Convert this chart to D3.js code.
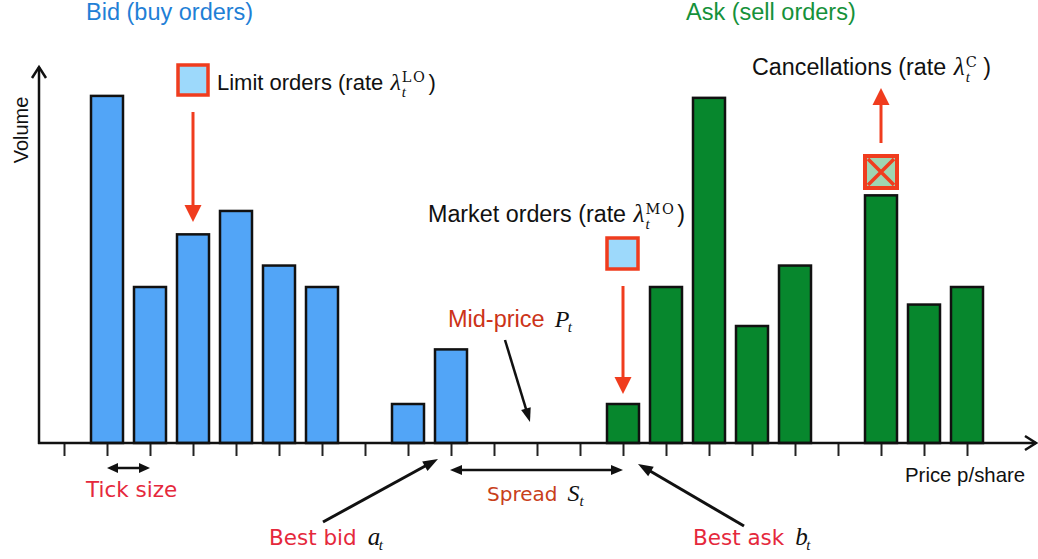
<!DOCTYPE html>
<html>
<head>
<meta charset="utf-8">
<script src="https://cdn.jsdelivr.net/npm/d3@7"></script>
<style>
  html, body { margin: 0; padding: 0; background: #ffffff; }
  svg { display: block; }
</style>
</head>
<body>
<svg id="chart" width="1038" height="559"></svg>
<script>
// ---- data ----
const tickIndices = d3.range(0, 22);               // price levels (ticks on the price axis)
const bidTicks   = [1, 2, 3, 4, 5, 6, 8, 9];
const bidVolumes = [17.8, 8, 10.7, 11.9, 9.1, 8, 2, 4.8];
const askTicks   = [13, 14, 15, 16, 17, 19, 20, 21];
const askVolumes = [2, 8, 17.7, 6, 9.1, 12.7, 7.1, 8];
const limitOrderTick = 3, marketOrderTick = 13, cancelTick = 19;
const bestBidTick = 9, bestAskTick = 13;

// ---- setup ----
const svg = d3.select("#chart");
const sans = "'Liberation Sans', Arial, Helvetica, sans-serif";
const dv = "'DejaVu Sans', Verdana, sans-serif";
const serif = "'Liberation Serif', 'Times New Roman', serif";
const dserif = "'DejaVu Serif', serif";

const x = d3.scaleLinear().domain([0, 21]).range([64, 967]);
const y = d3.scaleLinear().domain([0, 20]).range([443, 53]);
const barW = 32;

const bidColor = "#52a5f7", askColor = "#07872d";
const red = "#f03c1e";

// ---- helpers ----
function arrow(x1, y1, x2, y2, color, sw, hl, hw, both) {
  const g = svg.append("g");
  const dx = x2 - x1, dy = y2 - y1, L = Math.hypot(dx, dy);
  const ux = dx / L, uy = dy / L;
  const sx = both ? x1 + ux * hl * 0.8 : x1, sy = both ? y1 + uy * hl * 0.8 : y1;
  const ex = x2 - ux * hl * 0.8, ey = y2 - uy * hl * 0.8;
  g.append("line").attr("x1", sx).attr("y1", sy).attr("x2", ex).attr("y2", ey)
    .attr("stroke", color).attr("stroke-width", sw);
  const head = (tx, ty, vx, vy) => {
    const bx = tx - vx * hl, by = ty - vy * hl;
    const qx = -vy, qy = vx;
    g.append("path")
      .attr("d", `M${tx},${ty}L${bx + qx * hw / 2},${by + qy * hw / 2}L${bx - qx * hw / 2},${by - qy * hw / 2}Z`)
      .attr("fill", color);
  };
  head(x2, y2, ux, uy);
  if (both) head(x1, y1, -ux, -uy);
}

function rateLabel(x0, y0, prefix, sup, size, extraGap) {
  const g = svg.append("g").attr("fill", "#111");
  const t = g.append("text").attr("x", x0).attr("y", y0)
    .attr("font-family", sans).attr("font-size", size).text(prefix);
  let cx = x0 + t.node().getComputedTextLength() + size * 0.28 + 1;
  const lam = g.append("text").attr("x", cx).attr("y", y0)
    .attr("font-family", serif).attr("font-style", "italic").attr("font-size", size + 2).text("λ");
  cx += lam.node().getComputedTextLength() + 1;
  const s = g.append("text").attr("x", cx).attr("y", y0 - 8)
    .attr("font-family", dserif).attr("font-size", 14.5).attr("letter-spacing", 1.5).text(sup);
  const b = g.append("text").attr("x", cx).attr("y", y0 + 7)
    .attr("font-family", serif).attr("font-style", "italic").attr("font-size", 15).text("t");
  cx += Math.max(s.node().getComputedTextLength(), b.node().getComputedTextLength()) + 2 + (extraGap || 0);
  g.append("text").attr("x", cx).attr("y", y0)
    .attr("font-family", sans).attr("font-size", size).text(")");
}

function symbol(x0, y0, sym, size, subDx) {
  svg.append("text").attr("x", x0).attr("y", y0)
    .attr("font-family", serif).attr("font-style", "italic").attr("font-size", size)
    .attr("fill", "#111").text(sym);
  svg.append("text").attr("x", x0 + subDx).attr("y", y0 + 5)
    .attr("font-family", serif).attr("font-style", "italic").attr("font-size", 15)
    .attr("fill", "#111").text("t");
}

// ---- bars ----
const bids = bidTicks.map((t, i) => ({ t, v: bidVolumes[i] }));
const asks = askTicks.map((t, i) => ({ t, v: askVolumes[i] }));

svg.append("g").selectAll("rect").data(bids).join("rect")
  .attr("x", d => x(d.t) - barW / 2).attr("y", d => y(d.v))
  .attr("width", barW).attr("height", d => y(0) - y(d.v))
  .attr("fill", bidColor).attr("stroke", "#111").attr("stroke-width", 2.5);

svg.append("g").selectAll("rect").data(asks).join("rect")
  .attr("x", d => x(d.t) - barW / 2).attr("y", d => y(d.v))
  .attr("width", barW).attr("height", d => y(0) - y(d.v))
  .attr("fill", askColor).attr("stroke", "#111").attr("stroke-width", 2.5);

// ---- axes ----
const xAxis = svg.append("g").attr("transform", `translate(0,${y(0) + 1})`)
  .call(d3.axisBottom(x).tickValues(tickIndices).tickSize(12).tickFormat(""));
xAxis.select(".domain").remove();
xAxis.selectAll(".tick line").attr("stroke", "#222").attr("stroke-width", 2);

svg.append("line").attr("x1", 38).attr("y1", y(0)).attr("x2", 1036).attr("y2", y(0))
  .attr("stroke", "#111").attr("stroke-width", 2.5);
svg.append("path").attr("d", `M1025,${y(0) - 7}L1036,${y(0)}L1025,${y(0) + 7}`)
  .attr("fill", "none").attr("stroke", "#111").attr("stroke-width", 2.5);
svg.append("line").attr("x1", 39).attr("y1", y(0) + 1).attr("x2", 39).attr("y2", 67)
  .attr("stroke", "#111").attr("stroke-width", 2.5);
svg.append("path").attr("d", `M32,78L39,67L46,78`)
  .attr("fill", "none").attr("stroke", "#111").attr("stroke-width", 2.5);

svg.append("text").attr("transform", "translate(28,130) rotate(-90)")
  .attr("text-anchor", "middle").attr("font-family", sans).attr("font-size", 20)
  .attr("fill", "#111").text("Volume");
svg.append("text").attr("x", 905).attr("y", 482)
  .attr("font-family", sans).attr("font-size", 20.4).attr("fill", "#111").text("Price p/share");

// ---- headers ----
svg.append("text").attr("x", 86).attr("y", 20).attr("font-family", sans).attr("font-size", 23.5)
  .attr("fill", "#1f80d6").text("Bid (buy orders)");
svg.append("text").attr("x", 686).attr("y", 20).attr("font-family", sans).attr("font-size", 23.5)
  .attr("fill", "#15913a").text("Ask (sell orders)");

// ---- limit orders ----
svg.append("rect").attr("x", x(limitOrderTick) - 15).attr("y", 65).attr("width", 30).attr("height", 30)
  .attr("fill", "#9dd9fb").attr("stroke", red).attr("stroke-width", 3.5);
arrow(x(limitOrderTick), 112, x(limitOrderTick), 222, red, 3, 17, 17, false);
rateLabel(217, 90, "Limit orders (rate", "LO", 22, 0);

// ---- market orders ----
svg.append("rect").attr("x", x(marketOrderTick) - 16).attr("y", 238).attr("width", 31).attr("height", 31)
  .attr("fill", "#9dd9fb").attr("stroke", red).attr("stroke-width", 3.5);
arrow(x(marketOrderTick), 286, x(marketOrderTick), 394, red, 3, 17, 17, false);
rateLabel(428, 222, "Market orders (rate", "MO", 23.3, 0);

// ---- cancellations ----
const cx0 = x(cancelTick) - 16, cy0 = 156, cs = 32;
svg.append("rect").attr("x", cx0).attr("y", cy0).attr("width", cs).attr("height", cs)
  .attr("fill", "#9fd5b2").attr("stroke", red).attr("stroke-width", 4);
svg.append("path").attr("d", `M${cx0 + 3},${cy0 + 3}L${cx0 + cs - 3},${cy0 + cs - 3}M${cx0 + cs - 3},${cy0 + 3}L${cx0 + 3},${cy0 + cs - 3}`)
  .attr("stroke", red).attr("stroke-width", 3.5);
arrow(x(cancelTick), 143, x(cancelTick), 88, red, 3, 17, 17, false);
rateLabel(752, 75, "Cancellations (rate", "C", 23.3, 3);

// ---- mid price ----
(function () {
  const t = svg.append("text").attr("x", 448).attr("y", 327).attr("font-family", sans).attr("font-size", 23.5)
    .attr("fill", "#cc3318").text("Mid-price");
  symbol(448 + t.node().getComputedTextLength() + 10, 327, "P", 24, 13);
})();
arrow(505, 340, 530, 422, "#111", 2.5, 14, 10, false);

// ---- tick size ----
arrow(x(1), 468, x(2), 468, "#111", 2.5, 11, 10, true);
svg.append("text").attr("x", 86).attr("y", 497).attr("font-family", dv).attr("font-size", 21.5)
  .attr("fill", "#e5283c").text("Tick size");

// ---- spread ----
arrow(x(bestBidTick) - 1, 470, x(bestAskTick), 470, "#111", 2.5, 12, 10, true);
(function () {
  const t = svg.append("text").attr("x", 487).attr("y", 501).attr("font-family", dv).attr("font-size", 20)
    .attr("fill", "#c8401a").text("Spread");
  symbol(487 + t.node().getComputedTextLength() + 10, 501, "S", 24, 12);
})();

// ---- best bid / best ask ----
arrow(323, 522, 438, 459, "#111", 3, 15, 11, false);
arrow(744, 526, 638, 464, "#111", 3, 15, 11, false);
function bestLabel(x0, y0, word, sym) {
  const t = svg.append("text").attr("x", x0).attr("y", y0).attr("font-family", dv).attr("font-size", 21.5)
    .attr("fill", "#e5283c").text(word);
  symbol(x0 + t.node().getComputedTextLength() + 11, y0, sym, 25, 11);
}
bestLabel(269, 545, "Best bid", "a");
bestLabel(693, 545, "Best ask", "b");
</script>
</body>
</html>
